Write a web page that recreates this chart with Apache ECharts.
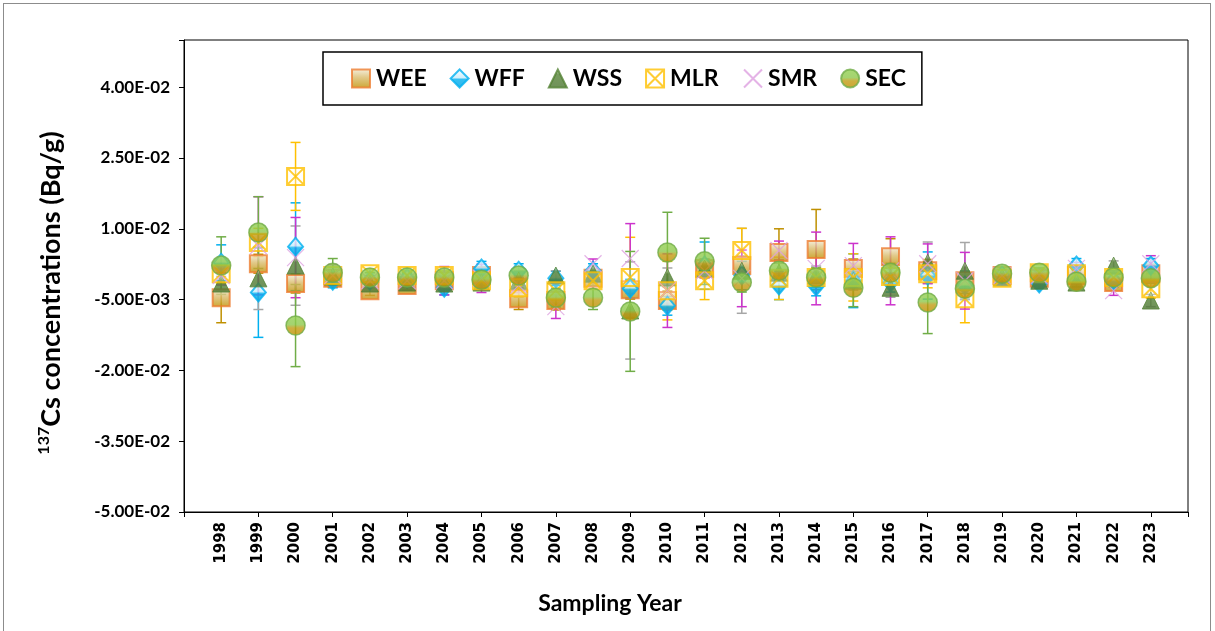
<!DOCTYPE html>
<html>
<head>
<meta charset="utf-8">
<title>137Cs concentrations</title>
<script src="https://cdn.jsdelivr.net/npm/echarts@6/dist/echarts.min.js"></script>
<style>
    html, body { margin: 0; padding: 0; background: #fff; }
    #frame {
        position: absolute; left: 3px; top: 3px; width: 1208px; height: 640px;
        border: 1px solid #8c8c8c; box-sizing: border-box;
    }
    #main { position: absolute; left: 0; top: 0; width: 1215px; height: 631px; }
</style>
</head>
<body>
<div id="frame"></div>
<div id="main"></div>
<script type="text/javascript">
// categories: axis runs 1997..2024, data only 1998..2023
var axisYears = [];
for (var y = 1997; y <= 2024; y++) axisYears.push(String(y));
var years = ['1998','1999','2000','2001','2002','2003','2004','2005','2006','2007','2008','2009','2010',
             '2011','2012','2013','2014','2015','2016','2017','2018','2019','2020','2021','2022','2023'];

// values (Bq/g) and error bar half-widths
var weeVal = [-0.0046, 0.0026, -0.0016, -0.0005, -0.0031, -0.0020, -0.0010, 0.0001, -0.0048, -0.0052, -0.0005, -0.0029, -0.0052,
              0.0016, 0.0022, 0.0050, 0.0056, 0.0016, 0.0041, 0.0011, -0.0010, 0.0001, -0.0005, 0.0001, -0.0014, 0.0005];
var weeErr = [0.0053, 0.0020, 0.0020, 0.0010, 0.0010, 0.0010, 0.0010, 0.0010, 0.0023, 0.0020, 0.0010, 0.0020, 0.0020,
              0.0020, 0.0020, 0.0050, 0.0085, 0.0020, 0.0038, 0.0020, 0.0020, 0.0010, 0.0010, 0.0010, 0.0010, 0.0020];

var wffVal = [0.0028, -0.0035, 0.0062, -0.0010, -0.0010, -0.0005, -0.0025, 0.0016, 0.0011, -0.0005, 0.0011, -0.0027, -0.0063,
              0.0022, 0.0001, -0.0020, -0.0022, -0.0010, -0.0014, 0.0001, -0.0020, 0.0001, -0.0016, 0.0022, -0.0010, 0.0022];
var wffErr = [0.0038, 0.0095, 0.0093, 0.0015, 0.0010, 0.0010, 0.0015, 0.0015, 0.0015, 0.0015, 0.0015, 0.0020, 0.0020,
              0.0050, 0.0030, 0.0030, 0.0020, 0.0057, 0.0020, 0.0050, 0.0030, 0.0010, 0.0010, 0.0015, 0.0010, 0.0015];

var wssVal = [-0.0016, -0.0005, 0.0022, -0.0001, -0.0016, -0.0014, -0.0016, -0.0014, -0.0010, 0.0001, 0.0005, -0.0073, -0.0003,
              0.0016, 0.0011, 0.0007, 0.0001, -0.0010, -0.0025, 0.0028, 0.0011, -0.0003, -0.0010, -0.0014, 0.0022, -0.0052];
var wssErr = [0.0015, 0.0066, 0.0084, 0.0015, 0.0010, 0.0010, 0.0015, 0.0010, 0.0010, 0.0010, 0.0015, 0.0103, 0.0020,
              0.0020, 0.0090, 0.0020, 0.0020, 0.0020, 0.0020, 0.0044, 0.0060, 0.0010, 0.0010, 0.0010, 0.0010, 0.0013];

var mlrVal = [0.0005, 0.0071, 0.0211, 0.0001, 0.0005, 0.0001, 0.0001, -0.0010, -0.0025, -0.0031, -0.0010, -0.0003, -0.0031,
              -0.0010, 0.0054, -0.0005, -0.0003, -0.0003, -0.0001, 0.0005, -0.0048, -0.0005, 0.0007, 0.0005, -0.0003, -0.0027];
var mlrErr = [0.0020, 0.0030, 0.0072, 0.0010, 0.0010, 0.0010, 0.0010, 0.0010, 0.0020, 0.0020, 0.0010, 0.0085, 0.0062,
              0.0040, 0.0047, 0.0045, 0.0020, 0.0050, 0.0020, 0.0030, 0.0051, 0.0010, 0.0010, 0.0010, 0.0010, 0.0020];

var smrVal = [0.0001, 0.0064, 0.0039, 0.0001, -0.0010, -0.0010, -0.0010, -0.0005, -0.0020, -0.0065, 0.0026, 0.0037, -0.0031,
              0.0011, -0.0005, 0.0054, 0.0016, 0.0022, 0.0011, 0.0026, -0.0010, 0.0001, 0.0001, 0.0016, -0.0031, 0.0026];
var smrErr = [0.0020, 0.0104, 0.0085, 0.0023, 0.0010, 0.0010, 0.0030, 0.0030, 0.0015, 0.0025, 0.0010, 0.0074, 0.0078,
              0.0015, 0.0060, 0.0020, 0.0077, 0.0047, 0.0072, 0.0042, 0.0060, 0.0010, 0.0010, 0.0013, 0.0010, 0.0017];

var secVal = [0.0022, 0.0092, -0.0105, 0.0007, -0.0003, -0.0003, -0.0003, -0.0008, 0.0001, -0.0046, -0.0046, -0.0075, 0.0050,
              0.0031, -0.0014, 0.0011, -0.0003, -0.0025, 0.0007, -0.0056, -0.0027, 0.0005, 0.0007, -0.0012, -0.0003, -0.0005];
var secErr = [0.0061, 0.0076, 0.0087, 0.0030, 0.0010, 0.0010, 0.0010, 0.0010, 0.0010, 0.0020, 0.0025, 0.0127, 0.0085,
              0.0049, 0.0020, 0.0020, 0.0020, 0.0040, 0.0020, 0.0066, 0.0010, 0.0010, 0.0010, 0.0010, 0.0010, 0.0010];

var yTicks = { min: -0.05, max: 0.05, step: 0.015 };

function grad(stops) {
    return new echarts.graphic.LinearGradient(0, 0, 0, 1, stops.map(function (s) {
        return { offset: s[0], color: s[1] };
    }));
}

// marker looks per series
var looks = {
    WEE: { symbol: 'rect', size: 17, err: '#bf9000',
           style: { color: grad([[0, '#f3ecd8'], [0.45, '#d9bb6a'], [1, '#bf9000']]), borderColor: '#ed7d31', borderWidth: 2 } },
    WFF: { symbol: 'diamond', size: [15, 18], err: '#00b0f0',
           style: { color: grad([[0, '#ffffff'], [0.45, '#c6ecfb'], [0.55, '#00b0f0'], [1, '#00a0e0']]), borderColor: '#00b0f0', borderWidth: 2 } },
    WSS: { symbol: 'triangle', size: 17, err: '#a6a6a6',
           style: { color: grad([[0, '#e2efda'], [0.3, '#548235'], [1, '#4b7530']]), borderColor: '#548235', borderWidth: 1 } },
    MLR: { symbol: 'path://M0 0H10V10H0Z M0 0L10 10 M10 0L0 10', size: 17, err: '#ffc000',
           style: { color: 'rgba(255,255,255,0.35)', borderColor: '#ffc000', borderWidth: 2 } },
    SMR: { symbol: 'path://M0 0L10 10 M10 0L0 10', size: 17, err: '#cc33cc',
           style: { color: 'none', borderColor: '#dda0e0', borderWidth: 1.2 } },
    SEC: { symbol: 'circle', size: 19, err: '#70ad47',
           style: { color: grad([[0, '#92d050'], [0.45, '#8dc84c'], [0.62, '#c29b12'], [1, '#bf9000']]), borderColor: '#70ad47', borderWidth: 1.5 } }
};

var seriesData = [
    ['WEE', weeVal, weeErr],
    ['WFF', wffVal, wffErr],
    ['WSS', wssVal, wssErr],
    ['MLR', mlrVal, mlrErr],
    ['SMR', smrVal, smrErr],
    ['SEC', secVal, secErr]
];

function sci(v) {
    if (Math.abs(v - yTicks.max) < 1e-9) return '';
    var s = v.toExponential(2).split('e');
    var e = s[1];
    var sign = e.charAt(0);
    return s[0] + 'E' + sign + e.slice(1).padStart(2, '0');
}

var series = [];
// error bars first, under every marker
seriesData.forEach(function (sd, k) {
    var name = sd[0], vals = sd[1], errs = sd[2];
    series.push({
        type: 'custom',
        name: name + ' error',
        silent: true,
        z: 2,
        encode: { x: 0, y: [1, 2] },
        data: years.map(function (yr, i) { return [yr, vals[i] - errs[i], vals[i] + errs[i]]; }),
        renderItem: function (params, api) {
            var lo = api.coord([api.value(0), api.value(1)]);
            var hi = api.coord([api.value(0), api.value(2)]);
            var w = 5;
            var st = { stroke: looks[name].err, lineWidth: 1.5 };
            return {
                type: 'group',
                children: [
                    { type: 'line', shape: { x1: lo[0], y1: lo[1], x2: hi[0], y2: hi[1] }, style: st },
                    { type: 'line', shape: { x1: lo[0] - w, y1: lo[1], x2: lo[0] + w, y2: lo[1] }, style: st },
                    { type: 'line', shape: { x1: hi[0] - w, y1: hi[1], x2: hi[0] + w, y2: hi[1] }, style: st }
                ]
            };
        }
    });
});
seriesData.forEach(function (sd, k) {
    var name = sd[0], vals = sd[1];
    series.push({
        type: 'scatter',
        name: name,
        z: 3 + k,
        symbol: looks[name].symbol,
        symbolSize: looks[name].size,
        itemStyle: looks[name].style,
        emphasis: { disabled: true },
        data: years.map(function (yr, i) { return [yr, vals[i]]; })
    });
});

var chart = echarts.init(document.getElementById('main'));
var option = {
    animation: false,
    textStyle: { fontFamily: 'Lato' },
    grid: { left: 184, right: 27, top: 40, bottom: 119, show: true, borderColor: '#000', borderWidth: 1 },
    legend: {
        data: ['WEE', 'WFF', 'WSS', 'MLR', 'SMR', 'SEC'],
        left: 323,
        top: 52,
        padding: [15, 16, 15, 28],
        itemWidth: 18,
        itemHeight: 18,
        itemGap: 23,
        borderColor: '#000',
        borderWidth: 1.5,
        textStyle: { fontFamily: 'Lato', fontSize: 23, fontWeight: 'bold', color: '#000', padding: [0, 0, 0, 1] }
    },
    xAxis: {
        type: 'category',
        data: axisYears,
        boundaryGap: false,
        name: 'Sampling Year',
        nameLocation: 'middle',
        nameGap: 80,
        nameTextStyle: { fontFamily: 'Lato', fontSize: 23, fontWeight: 'bold', color: '#000', padding: [0, 152, 0, 0] },
        axisLine: { onZero: false, lineStyle: { color: '#000', width: 1 } },
        axisTick: { interval: 1, length: 5, lineStyle: { color: '#000' } },
        axisLabel: {
            interval: 0,
            rotate: 90,
            margin: 10,
            fontFamily: 'DejaVu Sans',
            fontSize: 15,
            fontWeight: 'bold',
            color: '#000',
            formatter: function (v) { return (v === '1997' || v === '2024') ? '' : v; }
        },
        splitLine: { show: false }
    },
    yAxis: {
        type: 'value',
        min: yTicks.min,
        max: yTicks.max,
        interval: yTicks.step,
        name: '{sup|137}{main|Cs concentrations (Bq/g)}',
        nameLocation: 'middle',
        nameGap: 118,
        nameTextStyle: {
            padding: [0, 34, 0, 0],
            rich: {
                sup: { fontFamily: 'Lato', fontSize: 16, fontWeight: 'bold', color: '#000', verticalAlign: 'top', lineHeight: 30 },
                main: { fontFamily: 'Lato', fontSize: 27, fontWeight: 'bold', color: '#000', lineHeight: 30 }
            }
        },
        axisLine: { show: true, lineStyle: { color: '#000', width: 1 } },
        axisTick: { show: true, length: 5, lineStyle: { color: '#000' } },
        axisLabel: { margin: 14, fontFamily: 'Lato', fontSize: 17, fontWeight: 'bold', color: '#000', formatter: sci },
        splitLine: { show: false }
    },
    series: series
};
chart.setOption(option);
</script>
</body>
</html>
